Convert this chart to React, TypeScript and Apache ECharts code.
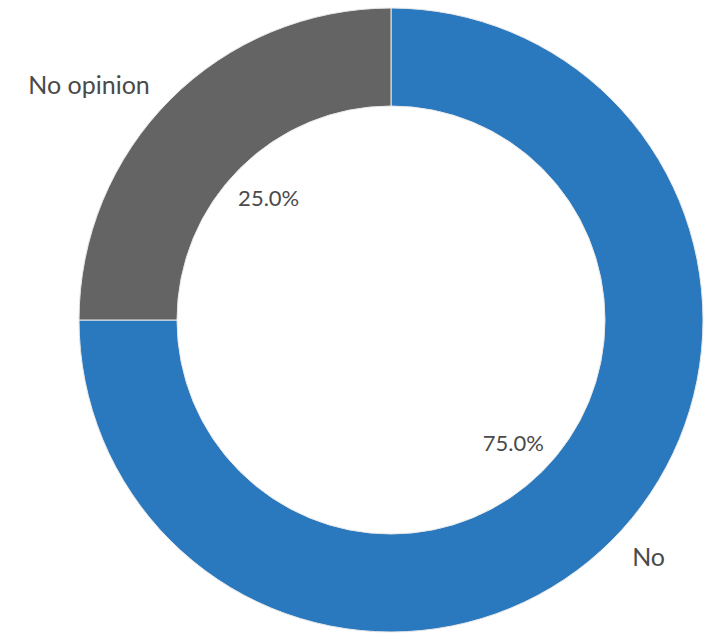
import React, { useEffect, useRef } from "react";
import * as echarts from "echarts";

const categories = ["No", "No opinion"];
const values = [75, 25];
const colors = ["#2a78bd", "#646464"];

export default function App() {
  const ref = useRef<HTMLDivElement>(null);
  useEffect(() => {
    document.body.style.margin = "0";
    const chart = echarts.init(ref.current!, null, { renderer: "svg" });
    const data = categories.map((name, i) => ({
      name,
      value: values[i],
      itemStyle: { color: colors[i] },
    }));
    chart.setOption({
      animation: false,
      backgroundColor: "#ffffff",
      series: [
        {
          type: "pie",
          center: [391, 320],
          radius: [214, 312],
          startAngle: 90,
          clockwise: true,
          silent: true,
          data,
          itemStyle: { borderColor: "#e8e8e8", borderWidth: 1 },
          label: {
            show: true,
            position: "outside",
            formatter: "{b}",
            fontFamily: "Lato",
            fontSize: 25,
            color: "#4a4a4a",
          },
          labelLine: { show: false, length: 22, length2: 0 },
        },
        {
          type: "pie",
          center: [391, 320],
          radius: [0, 340],
          startAngle: 90,
          clockwise: true,
          silent: true,
          z: 3,
          data: categories.map((name, i) => ({
            name,
            value: values[i],
            itemStyle: { color: "rgba(0,0,0,0)" },
          })),
          label: {
            show: true,
            position: "inside",
            formatter: (p: any) => p.percent.toFixed(1) + "%",
            fontFamily: "Lato",
            fontSize: 22,
            color: "#4a4a4a",
          },
          labelLine: { show: false },
        },
      ],
    });
    return () => chart.dispose();
  }, []);
  return (
    <div
      ref={ref}
      style={{ position: "absolute", left: 0, top: 0, width: 706, height: 639 }}
    />
  );
}
